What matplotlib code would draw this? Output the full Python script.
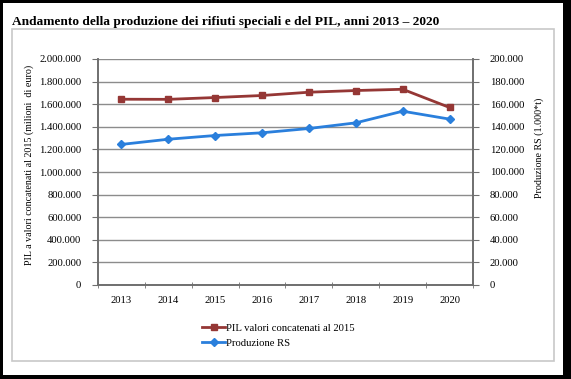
import matplotlib
matplotlib.use('Agg')
import matplotlib.pyplot as plt
import matplotlib.patches as mptch
from matplotlib.ticker import FuncFormatter

# data
anni = ['2013', '2014', '2015', '2016', '2017', '2018', '2019', '2020']
pil = [1644000, 1643000, 1659000, 1677000, 1706000, 1721000, 1732000, 1571000]
rs = [124400, 129000, 132300, 134700, 138500, 143500, 153800, 146800]

pil_ticks = list(range(0, 2000001, 200000))
rs_ticks = list(range(0, 200001, 20000))

plt.rcParams['font.family'] = ['Liberation Serif', 'DejaVu Serif']

W, H = 571, 379
fig = plt.figure(figsize=(W / 100, H / 100), dpi=100)

def px(x0, y0, x1, y1):
    #pixel box -> figure fraction
    return [x0 / W, 1 - y1 / H, (x1 - x0) / W, (y1 - y0) / H]

#thousands with dots
def dots(v, pos=None):
    return f'{int(round(v)):,}'.replace(',', '.')

#outer black frame and inner grey box
for r in [(0, 0, 571, 3), (0, 375, 571, 379), (0, 0, 3, 379), (563, 0, 571, 379)]:
    b = px(*r)
    fig.patches.append(mptch.Rectangle((b[0], b[1]), b[2], b[3], transform=fig.transFigure,
                                       facecolor='black', edgecolor='none'))
b = px(12, 29, 554, 361)
fig.patches.append(mptch.Rectangle((b[0], b[1]), b[2], b[3], transform=fig.transFigure,
                                   facecolor='none', edgecolor='#c8c8c8', linewidth=1.2))

fig.text(12 / W, 1 - 21.5 / H, 'Andamento della produzione dei rifiuti speciali e del PIL, anni 2013 \u2013 2020',
         fontsize=9.6, fontweight='bold', va='center', ha='left')

ax = fig.add_axes(px(98, 59, 473, 285))
ax2 = ax.twinx()

x = list(range(len(anni)))
l1, = ax.plot(x, pil, color='#953735', marker='s', markersize=4.5, linewidth=2, label='PIL valori concatenati al 2015')
l2, = ax2.plot(x, rs, color='#2a7fdc', marker='D', markersize=4.5, linewidth=2, label='Produzione RS')

ax.set_xlim(-0.5, len(anni) - 0.5)
ax.set_ylim(0, 2000000)
ax2.set_ylim(0, 200000)
ax.set_yticks(pil_ticks)
ax2.set_yticks(rs_ticks)
ax.yaxis.set_major_formatter(FuncFormatter(dots))
ax2.yaxis.set_major_formatter(FuncFormatter(dots))

ax.set_xticks(x)
ax.set_xticklabels(anni)
ax.set_xticks([i - 0.5 for i in range(len(anni) + 1)], minor=True)
ax.tick_params(axis='x', which='major', length=0, labelsize=7.7, pad=8)
ax.tick_params(axis='x', which='minor', length=5, direction='inout', color='#707070')
ax.tick_params(axis='y', length=4, direction='out', color='#707070', labelsize=7.7, pad=8)
ax2.tick_params(axis='y', length=4, direction='out', color='#707070', labelsize=7.7, pad=8)

ax.grid(axis='y', color='#8c8c8c', linewidth=1)
ax.set_axisbelow(True)
for a in (ax, ax2):
    a.spines['top'].set_visible(False)
    for s in ('left', 'right', 'bottom'):
        a.spines[s].set_color('#6e6e6e')
        a.spines[s].set_linewidth(1.2)

ax.set_ylabel('PIL a valori concatenati al 2015 (milioni  di euro)', fontsize=7.2)
ax.yaxis.set_label_coords(-0.171, 0.53)
ax2.set_ylabel('Produzione RS (1.000*t)', fontsize=7.2, rotation=90)
ax2.yaxis.set_label_coords(1.165, 0.606)

fig.legend(handles=[l1, l2], loc='upper left', bbox_to_anchor=(197 / W, 1 - 318 / H),
           frameon=False, fontsize=7.7, handlelength=2.1, handletextpad=0.15,
           labelspacing=0.5, borderpad=0)

fig.savefig('out.png', dpi=100)
